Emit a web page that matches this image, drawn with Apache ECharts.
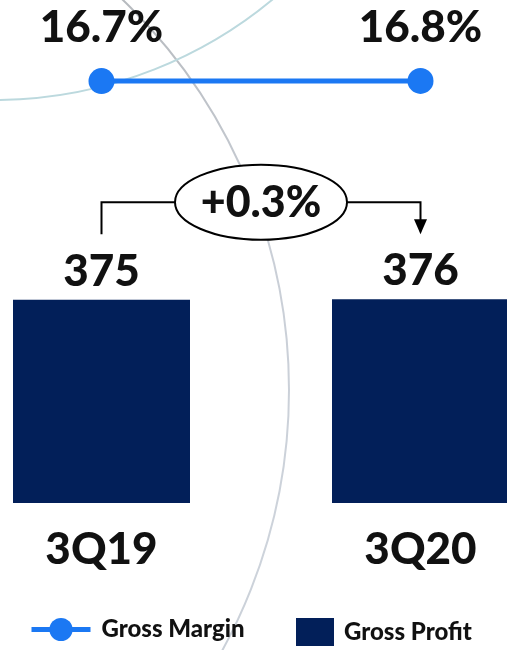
<!DOCTYPE html>
<html>
<head>
<meta charset="utf-8">
<script src="https://cdn.jsdelivr.net/npm/echarts@6/dist/echarts.min.js"></script>
<style>
  html, body { margin: 0; padding: 0; background: #ffffff; }
  #chart { width: 507px; height: 650px; }
</style>
</head>
<body>
<div id="chart"></div>
<script>
// Quarterly gross profit and gross margin
const quarters = ['3Q19', '3Q20'];
const grossProfit = [375, 376];
const grossMargin = [16.7, 16.8];

const FONT = 'Lato, "Noto Sans", sans-serif';
const WEIGHT = 900;
const NAVY = '#021f59';
const BLUE = '#1b78f3';

const chart = echarts.init(document.getElementById('chart'), null, { renderer: 'canvas' });

// categories sit on the grid edges, so each bar is centred on its tick
const catAxis = (gridIndex, showLabels) => ({
  type: 'category',
  gridIndex: gridIndex,
  data: quarters,
  boundaryGap: false,
  axisLine: { show: false },
  axisTick: { show: false },
  splitLine: { show: false },
  axisLabel: showLabels ? {
    show: true, margin: 25, color: '#111111',
    fontFamily: FONT, fontWeight: WEIGHT, fontSize: 44
  } : { show: false }
});

const legendText = (gap) => ({
  color: '#111111', fontFamily: FONT, fontWeight: WEIGHT, fontSize: 24, padding: [0, 0, 0, gap]
});

chart.setOption({
  animation: false,
  backgroundColor: '#ffffff',
  grid: [
    { left: 101.5, right: 86.5, top: 232, bottom: 147 },   // bars
    { left: 101.5, right: 86.5, top: 41, height: 80 }      // margin line
  ],
  xAxis: [catAxis(0, true), catAxis(1, false)],
  yAxis: [
    { type: 'value', gridIndex: 0, min: 0, max: 500, show: false, splitLine: { show: false } },
    { type: 'value', gridIndex: 1, min: 0, max: 33.5, show: false, splitLine: { show: false } }
  ],
  legend: [
    {
      data: ['Gross Margin'],
      left: 29, top: 617.5, padding: 0,
      itemWidth: 59, itemHeight: 29,
      lineStyle: { width: 5 },
      textStyle: legendText(6)
    },
    {
      data: [{ name: 'Gross Profit', icon: 'rect' }],
      left: 296, top: 618, padding: 0,
      itemWidth: 38, itemHeight: 28,
      textStyle: legendText(5)
    }
  ],
  graphic: [
    // decorative background arcs
    {
      type: 'circle', id: 'arcGrey', z: 0, silent: true,
      shape: { cx: -252, cy: 390, r: 541 },
      style: {
        fill: 'none', lineWidth: 2,
        stroke: {
          type: 'linear', x: 0, y: 0, x2: 0, y2: 1,
          colorStops: [
            { offset: 0, color: '#a9acae' },
            { offset: 0.35, color: '#c9ced6' },
            { offset: 0.65, color: '#cdd3db' },
            { offset: 1, color: '#c2c8d0' }
          ]
        }
      }
    },
    {
      type: 'circle', id: 'arcTeal', z: 0, silent: true,
      shape: { cx: -6, cy: -336, r: 436 },
      style: { fill: 'none', stroke: '#bcd9de', lineWidth: 2 }
    }
  ],
  series: [
    {
      name: 'Gross Profit',
      type: 'bar',
      xAxisIndex: 0, yAxisIndex: 0,
      data: grossProfit,
      barWidth: 177,
      clip: false,
      z: 3,
      itemStyle: { color: NAVY },
      label: {
        show: true, position: 'top', distance: 6,
        formatter: '{c}', color: '#111111',
        fontFamily: FONT, fontWeight: WEIGHT, fontSize: 44
      }
    },
    {
      name: 'Gross Margin',
      type: 'line',
      xAxisIndex: 1, yAxisIndex: 1,
      data: grossMargin,
      symbol: 'circle', symbolSize: 26,
      clip: false,
      z: 3,
      lineStyle: { color: BLUE, width: 5 },
      itemStyle: { color: BLUE },
      label: {
        show: true, position: 'top', distance: 18,
        formatter: '{c}%', color: '#111111',
        fontFamily: FONT, fontWeight: WEIGHT, fontSize: 44
      }
    }
  ]
});

// Change annotation: bracket from the first bar to the second with the growth rate
const p0 = chart.convertToPixel({ seriesIndex: 0 }, [0, grossProfit[0]]);
const p1 = chart.convertToPixel({ seriesIndex: 0 }, [1, grossProfit[1]]);
const barTop = Math.min(p0[1], p1[1]);
const legY = barTop - 97;          // horizontal bracket line
const stemBottom = barTop - 65;    // end of the bracket stems
const ex = (p0[0] + p1[0]) / 2;
const rx = 86, ry = 37.5;
const change = ((grossProfit[1] / grossProfit[0] - 1) * 100).toFixed(1);
const changeText = (change >= 0 ? '+' : '') + change + '%';

chart.setOption({
  graphic: [
    {
      type: 'polyline', id: 'bracketL', z: 10, silent: true,
      shape: { points: [[p0[0], stemBottom], [p0[0], legY], [ex - rx, legY]] },
      style: { fill: 'none', stroke: '#000000', lineWidth: 2 }
    },
    {
      type: 'polyline', id: 'bracketR', z: 10, silent: true,
      shape: { points: [[ex + rx, legY], [p1[0], legY], [p1[0], stemBottom - 14]] },
      style: { fill: 'none', stroke: '#000000', lineWidth: 2 }
    },
    {
      type: 'polygon', id: 'arrowHead', z: 10, silent: true,
      shape: { points: [[p1[0] - 6.5, stemBottom - 15], [p1[0] + 6.5, stemBottom - 15], [p1[0], stemBottom]] },
      style: { fill: '#000000' }
    },
    {
      type: 'ellipse', id: 'changeBubble', z: 10, silent: true,
      shape: { cx: ex, cy: legY, rx: rx, ry: ry },
      style: { fill: '#ffffff', stroke: '#000000', lineWidth: 2 }
    },
    {
      type: 'text', id: 'changeText', z: 11, silent: true,
      x: ex, y: legY + 1,
      style: {
        text: changeText, fill: '#111111',
        font: WEIGHT + ' 43px ' + FONT,
        align: 'center', verticalAlign: 'middle'
      }
    }
  ]
});
</script>
</body>
</html>
